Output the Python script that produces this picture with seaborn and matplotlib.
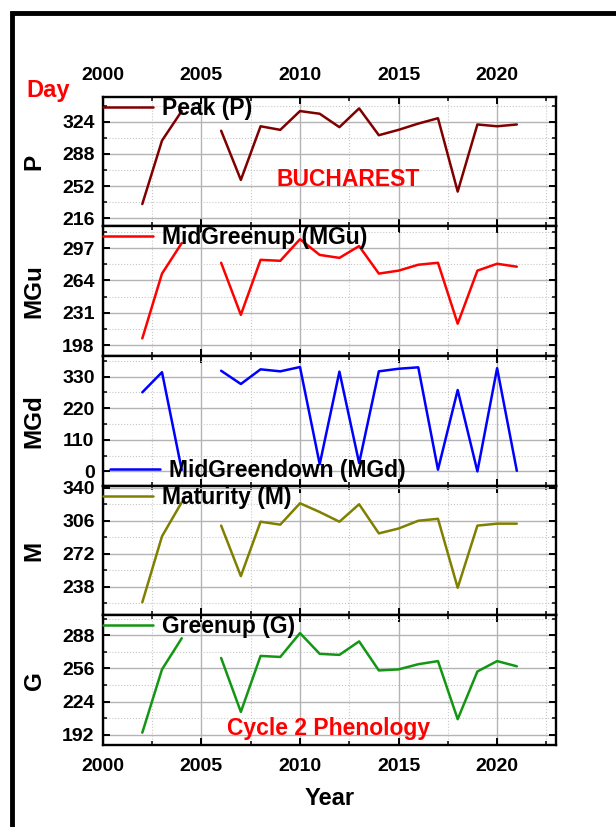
import numpy as np
import pandas as pd
import matplotlib
matplotlib.use("Agg")
import matplotlib.pyplot as plt
from matplotlib.ticker import AutoMinorLocator
from matplotlib.patches import Rectangle
import seaborn as sns

years = [2002, 2003, 2004, 2005, 2006, 2007, 2008, 2009, 2010, 2011, 2012,
         2013, 2014, 2015, 2016, 2017, 2018, 2019, 2020, 2021]
peak = [232, 303, 336, np.nan, 314, 259, 319, 315, 336, 333, 318,
        339, 309, 315, 322, 328, 246, 321, 319, 321]
mid_greenup = [205, 271, 302, np.nan, 282, 229, 285, 284, 306, 290, 287,
               299, 271, 274, 280, 282, 220, 274, 281, 278]
mid_greendown = [275, 345, 5, np.nan, 350, 304, 355, 348, 363, 25, 347,
                 29, 348, 357, 362, 6, 283, 0, 359, 2]
maturity = [222, 290, 325, np.nan, 301, 249, 305, 302, 324, 315, 305,
            323, 293, 298, 306, 308, 237, 301, 303, 303]
greenup = [194, 255, 285, np.nan, 266, 214, 268, 267, 290, 270, 269,
           282, 254, 255, 260, 263, 207, 253, 263, 258]

series_names = ["Peak (P)", "MidGreenup (MGu)", "MidGreendown (MGd)",
                "Maturity (M)", "Greenup (G)"]
short_names = ["P", "MGu", "MGd", "M", "G"]
series_values = [peak, mid_greenup, mid_greendown, maturity, greenup]
colors = ["#800000", "#ff0000", "#0000ff", "#808000", "#139613"]
y_ticks = [[216, 252, 288, 324], [198, 231, 264, 297], [0, 110, 220, 330],
           [238, 272, 306, 340], [192, 224, 256, 288]]
y_lims = [(207, 352), (187, 319), (-50, 401), (208.5, 342), (182, 307)]
x_ticks = [2000, 2005, 2010, 2015, 2020]

sns.set_style("white")
plt.rcParams["font.family"] = ["Liberation Sans", "DejaVu Sans"]
plt.rcParams["font.weight"] = "bold"
for key in ["text.color", "axes.labelcolor", "xtick.color", "ytick.color"]:
    plt.rcParams[key] = "black"

fig = plt.figure(figsize=(6.16, 8.27), dpi=100)
axes = fig.subplots(5, 1, sharex=True)
fig.subplots_adjust(left=0.167, right=0.903, top=0.883, bottom=0.099, hspace=0)

for i, ax in enumerate(axes):
    df = pd.DataFrame({"Year": years, "Value": series_values[i]}).dropna()
    df["seg"] = (df["Year"] > 2005).astype(int)
    sns.lineplot(data=df, x="Year", y="Value", units="seg", estimator=None,
                 color=colors[i], lw=1.8, ax=ax, label=series_names[i])
    ax.set_xlim(2000, 2023)
    ax.set_ylim(*y_lims[i])
    ax.set_yticks(y_ticks[i])
    ax.set_xticks(x_ticks)
    ax.yaxis.set_minor_locator(AutoMinorLocator(2))
    ax.xaxis.set_minor_locator(AutoMinorLocator(2))
    ax.grid(which="major", color="#b4b4b4", lw=1.0, ls="-")
    ax.grid(which="minor", color="#c8c8c8", lw=0.8, ls=":")
    ax.set_axisbelow(True)
    for s in ax.spines.values():
        s.set_visible(True)
        s.set_color("black")
        s.set_linewidth(1.7)
    ax.tick_params(which="major", direction="in", length=5, width=1.4,
                   top=True, bottom=True, left=True, right=True,
                   labelsize=14, pad=6)
    ax.tick_params(which="minor", direction="in", length=3, width=1.1,
                   top=True, bottom=True, left=True, right=True)
    ax.tick_params(axis="x", pad=9)
    for lab in ax.get_xticklabels() + ax.get_yticklabels():
        lab.set_fontweight("bold")
    ax.set_ylabel(short_names[i], fontsize=17.5, fontweight="bold")
    ax.yaxis.set_label_coords(-0.126, 0.5)
    ax.set_xlabel("")
    h, l = ax.get_legend_handles_labels()
    if i == 2:
        ax.legend(h[:1], l[:1], loc="lower left", bbox_to_anchor=(0.015, 0.03),
                  frameon=False, prop={"size": 16.5, "weight": "bold"},
                  handlelength=2.2, handletextpad=0.4, borderaxespad=0,
                  borderpad=0)
    else:
        ax.legend(h[:1], l[:1], loc="upper left", bbox_to_anchor=(0.0, 1.0),
                  frameon=False, prop={"size": 16.5, "weight": "bold"},
                  handlelength=2.2, handletextpad=0.4, borderaxespad=0,
                  borderpad=0)

axes[0].tick_params(axis="x", labeltop=True, pad=9)
for lab in axes[0].get_xticklabels():
    lab.set_fontweight("bold")
axes[-1].set_xlabel("Year", fontsize=17, fontweight="bold", labelpad=9)

axes[0].text(0.54, 0.36, "BUCHAREST", transform=axes[0].transAxes, color="red",
             fontsize=16.5, fontweight="bold", ha="center", va="center")
axes[-1].text(0.497, 0.13, "Cycle 2 Phenology", transform=axes[-1].transAxes,
              color="red", fontsize=16.5, fontweight="bold", ha="center", va="center")
fig.text(0.078, 0.891, "Day", color="red", fontsize=17, fontweight="bold",
         ha="center", va="center")

fig.patches.append(Rectangle((12 / 616, -0.1), 1.2, 1.1 - 13 / 827,
                             transform=fig.transFigure, fill=False,
                             edgecolor="black", lw=3.5, clip_on=False))

fig.savefig("out.png", dpi=100)
